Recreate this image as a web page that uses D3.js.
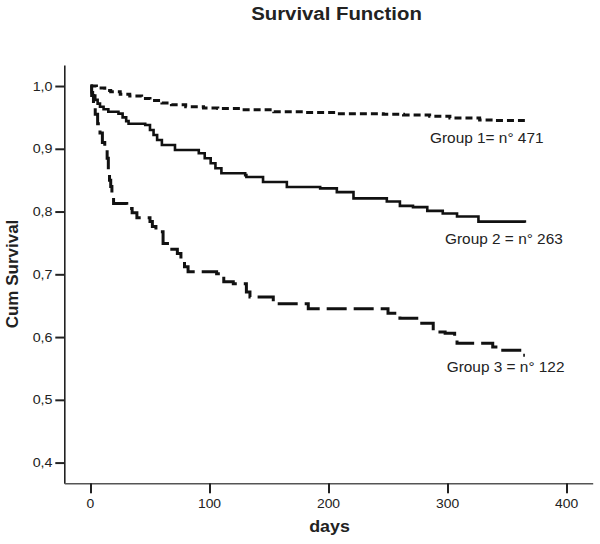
<!DOCTYPE html>
<html><head><meta charset="utf-8">
<script src="https://cdn.jsdelivr.net/npm/d3@7"></script>
<style>body{margin:0;background:#fff}svg{display:block}text{font-family:"Liberation Sans",Arial,sans-serif}</style>
</head><body><svg id="c" width="600" height="544"></svg>
<script>
const g1Days = [0,5,12,17,25,33,43,50,60,68,80,95,107,126,154,180,207,246,263,285,302,327,340,365];
const g1Surv = [1.0,0.997,0.993,0.991,0.987,0.984,0.980,0.977,0.973,0.970,0.967,0.965,0.964,0.962,0.959,0.958,0.956,0.955,0.954,0.952,0.949,0.946,0.945,0.945];
const g2Days = [0,1,2,4,6,8,11,15,23.5,27,30,32,46,50,53,56,60,71,91,96,101,105,110,130,131,145,165,193,207,221,249,260,271,283,296,308,326,365];
const g2Surv = [1.0,0.99,0.985,0.978,0.972,0.967,0.963,0.959,0.956,0.950,0.944,0.940,0.938,0.930,0.922,0.914,0.906,0.898,0.893,0.885,0.877,0.869,0.861,0.858,0.855,0.847,0.839,0.837,0.831,0.821,0.816,0.809,0.807,0.801,0.797,0.792,0.784,0.782];
const g3Days = [0,1,2.5,4,6,8,10,12,14,15,16,17,18,19.4,30.5,35,39,50,52,55,61,66,73,76,79,82,106,112,120,131,134,153.6,183,250,260,276,288,298,306,308,338,344,362,365];
const g3Surv = [1.0,0.985,0.967,0.955,0.94,0.925,0.91,0.898,0.885,0.866,0.85,0.84,0.828,0.813,0.805,0.798,0.790,0.784,0.776,0.768,0.749,0.74,0.733,0.72,0.712,0.704,0.701,0.688,0.685,0.672,0.664,0.653,0.645,0.638,0.630,0.622,0.608,0.606,0.598,0.590,0.584,0.579,0.571,0.571];
const xTicks = [0,100,200,300,400];
const yTicks = [0.4,0.5,0.6,0.7,0.8,0.9,1.0];
const groupLabels = ["Group 1= n° 471","Group 2 = n° 263","Group 3 = n° 122"];
const title = "Survival Function", xTitle = "days", yTitle = "Cum Survival";

const svg = d3.select("#c");
const x = d3.scaleLinear().domain([-22,422]).range([64.3,592.7]);
const y = d3.scaleLinear().domain([0.367,1.0335]).range([483.3,65]);
const loc = d3.formatLocale({decimal:",",thousands:".",grouping:[3],currency:["",""]});
const fmt = loc.format(".1f");

// helper: horizontally stretched text
function stext(px, py, str, size, weight, anchor, sx){
  svg.append("g").attr("transform",`translate(${px},${py}) scale(${sx},1)`)
    .append("text").attr("text-anchor",anchor).attr("font-size",size)
    .attr("font-weight",weight).attr("fill","#222").text(str);
}

// y axis
const ya = svg.append("g").attr("transform","translate(64.3,0)")
  .call(d3.axisLeft(y).tickValues(yTicks).tickFormat(fmt).tickSize(9).tickSizeOuter(0).tickPadding(2));
ya.select(".domain").attr("stroke","#222").attr("stroke-width",1.6);
ya.selectAll(".tick line").attr("stroke","#222").attr("stroke-width",2);
ya.selectAll(".tick text").remove();
yTicks.forEach(v=>stext(52.5, y(v)+4.6, fmt(v), 13, "normal", "end", 1.1));

// x axis
const xa = svg.append("g").attr("transform","translate(0,483.3)")
  .call(d3.axisBottom(x).tickValues(xTicks).tickSize(10).tickSizeOuter(0).tickPadding(4));
xa.select(".domain").attr("stroke","#555").attr("stroke-width",1.6);
xa.selectAll(".tick line").attr("stroke","#222").attr("stroke-width",2);
xa.selectAll(".tick text").remove();
xTicks.forEach(v=>stext(x(v), 508.3, String(v), 13, "normal", "middle", 1.07));

const line = d3.line().x(d=>x(d[0])).y(d=>y(d[1])).curve(d3.curveStepAfter);
const series = [
  {days:g1Days,surv:g1Surv,dash:"7,4",w:3},
  {days:g2Days,surv:g2Surv,dash:null,w:2.6},
  {days:g3Days,surv:g3Surv,dash:"20,7",w:3}
];
series.forEach(s=>{
  svg.append("path").datum(s.days.map((d,i)=>[d,s.surv[i]]))
    .attr("d",line).attr("fill","none").attr("stroke","#111")
    .attr("stroke-width",s.w).attr("stroke-dasharray",s.dash);
});

const labPos = [[430,143],[445,244],[446.7,371.5]];
groupLabels.forEach((t,i)=>stext(labPos[i][0], labPos[i][1], t, 14, "normal", "start", 1.1));

stext(336.5, 19.5, title, 18.5, "bold", "middle", 1.1);
stext(329.5, 532, xTitle, 17, "bold", "middle", 1.05);
svg.append("text").attr("transform","translate(18,274) rotate(-90)").attr("text-anchor","middle").attr("font-size",17).attr("font-weight","bold").attr("fill","#222").text(yTitle);
</script></body></html>
